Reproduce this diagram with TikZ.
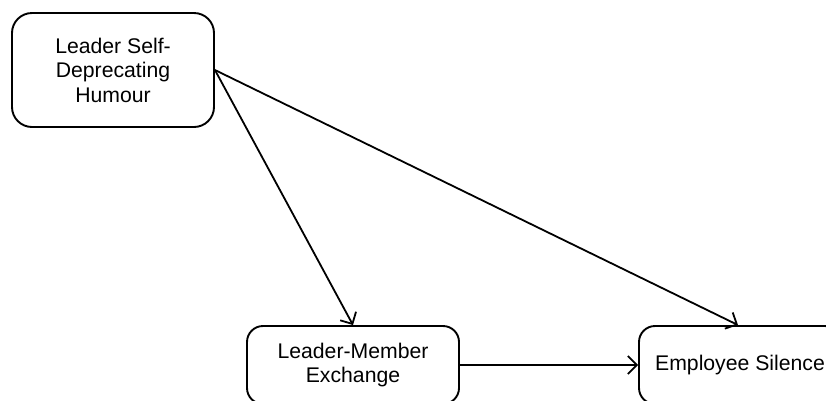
\documentclass[tikz,border=0pt]{standalone}
\usepackage{fontspec}
\setmainfont{Liberation Sans}
\usetikzlibrary{arrows.meta}
\begin{document}
\begin{tikzpicture}[x=1pt,y=-1pt,
  box/.style={draw,line width=1.9pt,align=center,inner sep=0pt,
    font=\fontsize{21.2}{24.5}\selectfont},
  conn/.style={line width=1.8pt,-{Straight Barb[length=9pt,width=18pt,line width=1.8pt]}}]
\useasboundingbox (0,0) rectangle (826,400);
\clip (0,0) rectangle (826,400);
\node[box,rounded corners=20pt,minimum width=202pt,minimum height=114pt] (lsdh) at (113,70) {Leader Self-\\Deprecating\\Humour};
\node[box,rounded corners=16pt,minimum width=212pt,minimum height=78pt] (lmx) at (353,365) {Leader-Member\\Exchange};
\node[box,rounded corners=16pt,minimum width=202pt,minimum height=78pt] (es) at (740,365) {Employee Silence};
\draw[conn] (lsdh.east) -- (lmx.north);
\draw[conn] (lsdh.east) -- ([xshift=-2pt]es.north);
\draw[conn] (lmx.east) -- (es.west);
\end{tikzpicture}
\end{document}
